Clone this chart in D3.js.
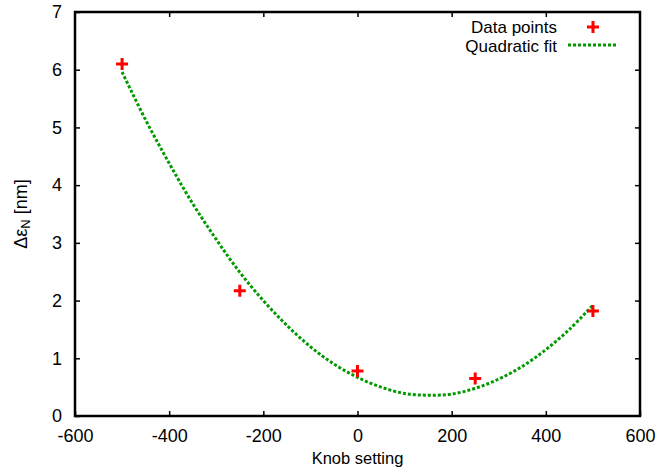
<!DOCTYPE html>
<html>
<head>
<meta charset="utf-8">
<script src="https://cdn.jsdelivr.net/npm/d3@7"></script>
<style>
  body { margin: 0; background: #fff; }
  svg { display: block; font-family: "Liberation Sans", Arial, sans-serif; }
</style>
</head>
<body>
<div id="chart"></div>
<script>
// Measured points
const knob = [-500, -250, 0, 250, 500];
const emittance = [6.1, 2.17, 0.78, 0.65, 1.82];

// Quadratic fit curve
const fitKnob = [-500, -450, -400, -350, -300, -250, -200, -150, -100, -50, 0,
  50, 100, 150, 200, 250, 300, 350, 400, 450, 500];
const fitEmittance = [5.96, 5.13, 4.38, 3.68, 3.06, 2.49, 2.0, 1.57, 1.2, 0.9, 0.67,
  0.5, 0.39, 0.36, 0.38, 0.48, 0.64, 0.86, 1.15, 1.5, 1.92];

const xTicks = [-600, -400, -200, 0, 200, 400, 600];
const yTicks = [0, 1, 2, 3, 4, 5, 6, 7];

const width = 672;
const height = 474;
const margin = { top: 12, right: 32, bottom: 58, left: 75 };

const svg = d3
  .select("#chart")
  .append("svg")
  .attr("width", width)
  .attr("height", height);

const x = d3
  .scaleLinear()
  .domain([-600, 600])
  .range([margin.left, width - margin.right]);
const y = d3
  .scaleLinear()
  .domain([0, 7])
  .range([height - margin.bottom, margin.top]);

const x0 = x.range()[0], x1 = x.range()[1];
const y0 = y.range()[0], y1 = y.range()[1];

// plain hyphen minus like gnuplot, not the unicode minus d3 uses
const fmt = (d) => String(d);

// Axes, gnuplot style: ticks point inward on every side
const tickLen = 5;
function styleAxis(g) {
  g.select(".domain").remove();
  g.selectAll(".tick line").attr("stroke", "#000").attr("stroke-width", 1.5);
  g.selectAll(".tick text").attr("fill", "#000").style("font-size", "18px");
}

svg.append("g")
  .attr("transform", `translate(0,${y0})`)
  .call(d3.axisBottom(x).tickValues(xTicks).tickSize(-tickLen).tickPadding(13).tickFormat(fmt))
  .call(styleAxis);
svg.append("g")
  .attr("transform", `translate(0,${y1})`)
  .call(d3.axisTop(x).tickValues(xTicks.slice(1, -1)).tickSize(-tickLen).tickFormat(""))
  .call(styleAxis);
svg.append("g")
  .attr("transform", `translate(${x0},0)`)
  .call(d3.axisLeft(y).tickValues(yTicks).tickSize(-tickLen).tickPadding(13).tickFormat(fmt))
  .call(styleAxis);
svg.append("g")
  .attr("transform", `translate(${x1},0)`)
  .call(d3.axisRight(y).tickValues(yTicks.slice(1, -1)).tickSize(-tickLen).tickFormat(""))
  .call(styleAxis);

// Frame
svg.append("rect")
  .attr("x", x0)
  .attr("y", y1)
  .attr("width", x1 - x0)
  .attr("height", y0 - y1)
  .attr("fill", "none")
  .attr("stroke", "#000")
  .attr("stroke-width", 2.5);

// Fit curve
const green = "#009a00";
const line = d3
  .line()
  .x((d, i) => x(fitKnob[i]))
  .y((d) => y(d))
  .curve(d3.curveCatmullRom);

svg.append("path")
  .attr("d", line(fitEmittance))
  .attr("fill", "none")
  .attr("stroke", green)
  .attr("stroke-width", 3)
  .attr("stroke-dasharray", "3,2");

// Data points as plus markers
const plus = 6;
function drawPlus(g, cx, cy) {
  g.append("path")
    .attr("d", `M${cx - plus},${cy}H${cx + plus}M${cx},${cy - plus}V${cy + plus}`)
    .attr("stroke", "#ff0000")
    .attr("stroke-width", 3);
}
const pts = svg.append("g");
knob.forEach((k, i) => drawPlus(pts, x(k), y(emittance[i])));

// Legend
const legendTextX = 557;
const legend = svg.append("g").style("font-size", "17px");
legend.append("text")
  .attr("x", legendTextX)
  .attr("y", 33)
  .attr("text-anchor", "end")
  .text("Data points");
drawPlus(legend, 593, 27);
legend.append("text")
  .attr("x", legendTextX)
  .attr("y", 52)
  .attr("text-anchor", "end")
  .text("Quadratic fit");
legend.append("line")
  .attr("x1", 568)
  .attr("x2", 618)
  .attr("y1", 45)
  .attr("y2", 45)
  .attr("stroke", green)
  .attr("stroke-width", 3)
  .attr("stroke-dasharray", "3,2");

// Axis titles
svg.append("text")
  .attr("x", (x0 + x1) / 2)
  .attr("y", 464)
  .attr("text-anchor", "middle")
  .style("font-size", "16.5px")
  .text("Knob setting");

const yTitle = svg.append("text")
  .attr("transform", `translate(27,${(y0 + y1) / 2}) rotate(-90)`)
  .attr("text-anchor", "middle")
  .style("font-size", "18px");
yTitle.append("tspan").text("Δε");
yTitle.append("tspan").attr("baseline-shift", "-25%").style("font-size", "13px").text("N");
yTitle.append("tspan").text(" [nm]");
</script>
</body>
</html>
